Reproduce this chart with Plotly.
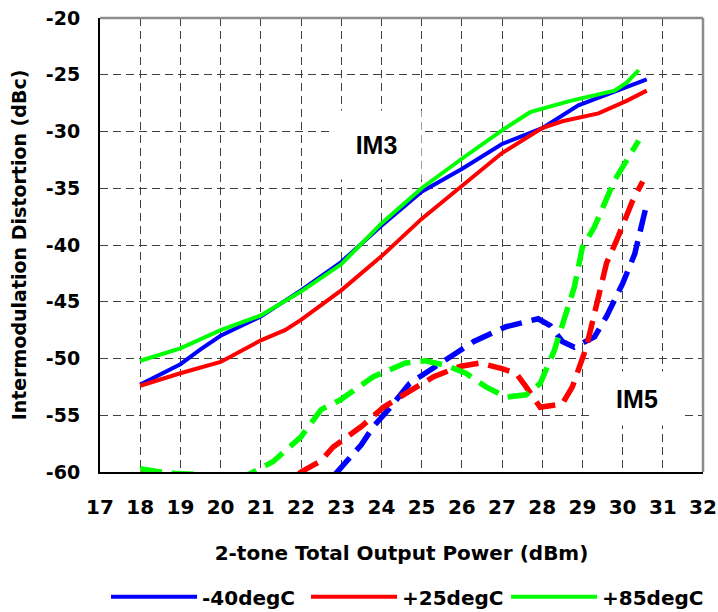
import plotly.graph_objects as go

# ---------------- data ----------------
series_names = ["-40degC", "+25degC", "+85degC"]
series_colors = ["#0000FF", "#FF0000", "#00FF00"]

# IM3 (solid)
im3_m40_x = [18, 19, 19.5, 20, 21, 22, 23, 24, 25, 26, 27, 28, 28.9, 29.8, 30.6]
im3_m40_y = [-52.3, -50.5, -49.2, -48.0, -46.3, -44.0, -41.5, -38.3, -35.3, -33.3, -31.1, -29.7, -27.7, -26.5, -25.4]

im3_p25_x = [18, 19, 20, 21, 21.6, 22, 23, 23.5, 24, 25, 26, 27, 28, 28.5, 29.4, 30.1, 30.6]
im3_p25_y = [-52.4, -51.3, -50.3, -48.4, -47.5, -46.6, -44.0, -42.5, -41.0, -37.7, -34.8, -31.9, -29.7, -29.1, -28.4, -27.3, -26.4]

im3_p85_x = [18, 19, 20, 21, 22, 23, 24, 25, 26, 27, 27.7, 28, 28.7, 29.8, 30.1, 30.4]
im3_p85_y = [-50.2, -49.1, -47.5, -46.2, -44.1, -41.7, -38.1, -35.0, -32.4, -29.9, -28.3, -28.0, -27.3, -26.4, -25.7, -24.6]

# IM5 (dashed)
im5_m40_x = [22.85, 23.0, 23.5, 23.8, 24.2, 24.7, 25.5, 26.3, 27.1, 27.9, 28.2, 28.5, 28.8, 29.3, 29.6, 30.0, 30.3, 30.6]
im5_m40_y = [-60.2, -59.6, -57.6, -56.0, -54.4, -52.2, -50.4, -48.5, -47.2, -46.5, -47.1, -48.5, -49.0, -48.1, -46.3, -43.4, -40.8, -36.4]

im5_p25_x = [18, 18.6, 21.9, 22.0, 22.5, 22.8, 23.5, 24.05, 24.55, 25.3, 25.95, 26.45, 27.0, 27.35, 27.6, 27.95,
             28.5, 28.75, 29.1, 29.35, 29.6, 29.85, 30.25, 30.5]
im5_p25_y = [-60.1, -60.6, -60.3, -60.0, -59.0, -57.8, -56.0, -54.3, -53.2, -51.6, -50.7, -50.4, -50.9, -51.3, -52.5, -54.3,
             -54.0, -52.5, -49.0, -45.5, -41.6, -39.6, -36.1, -34.4]

im5_p85_x = [18, 18.66, 20.6, 20.8, 21.3, 22.0, 22.5, 23.0, 23.8, 24.6, 25.1, 25.6, 26.1, 26.6, 27.1, 27.6, 27.95,
             28.3, 28.5, 28.8, 29.0, 29.3, 29.8, 30.4]
im5_p85_y = [-59.7, -60.1, -60.4, -60.0, -59.1, -56.9, -54.5, -53.6, -51.6, -50.4, -50.2, -50.6, -51.3, -52.5, -53.4, -53.2, -52.2,
             -49.3, -46.9, -43.7, -40.2, -38.4, -34.3, -30.8]

x_ticks = list(range(17, 33))
y_ticks = list(range(-60, -19, 5))

im3_x = [im3_m40_x, im3_p25_x, im3_p85_x]
im3_y = [im3_m40_y, im3_p25_y, im3_p85_y]
im5_x = [im5_m40_x, im5_p25_x, im5_p85_x]
im5_y = [im5_m40_y, im5_p25_y, im5_p85_y]

# ---------------- figure ----------------
FONT = "DejaVu Sans"
fig = go.Figure()

for name, color, xs, ys in zip(series_names, series_colors, im3_x, im3_y):
    fig.add_trace(go.Scatter(x=xs, y=ys, mode="lines", name=name, legendgroup=name,
                             line=dict(color=color, width=4)))

for name, color, xs, ys in zip(series_names, series_colors, im5_x, im5_y):
    fig.add_trace(go.Scatter(x=xs, y=ys, mode="lines", name=name, legendgroup=name, showlegend=False,
                             line=dict(color=color, width=5.5, dash="22px,10px")))

grid = dict(showgrid=True, gridcolor="#404040", gridwidth=1.3, griddash="8px,5px", zeroline=False,
            showline=True, linecolor="#000000", linewidth=2, ticks="")

fig.update_xaxes(range=[17, 32], tickvals=x_ticks, ticktext=[str(v) for v in x_ticks],
                 tickfont=dict(family=FONT, size=20, color="#000000", weight="bold"),
                 ticklabelstandoff=16,
                 title=dict(text="2-tone Total Output Power (dBm)", standoff=28,
                            font=dict(family=FONT, size=20, color="#000000", weight="bold")),
                 **grid)
fig.update_yaxes(range=[-60, -20], tickvals=y_ticks, ticktext=[str(v) for v in y_ticks],
                 tickfont=dict(family=FONT, size=19, color="#000000", weight="bold"),
                 ticklabelstandoff=14,
                 title=dict(text="Intermodulation Distortion (dBc)", standoff=14,
                            font=dict(family=FONT, size=19, color="#000000", weight="bold")),
                 **grid)

# gray frame on top and right
fig.add_shape(type="line", xref="paper", yref="paper", x0=0, x1=1, y0=1, y1=1,
              line=dict(color="#8c8c8c", width=2.5))
fig.add_shape(type="line", xref="paper", yref="paper", x0=1, x1=1, y0=0, y1=1,
              line=dict(color="#8c8c8c", width=2.5))

# curve labels on white boxes
fig.add_annotation(x=23.89, y=-31.2, text="<b>IM3</b>", showarrow=False,
                   font=dict(family="Liberation Sans", size=25, color="#000000"),
                   bgcolor="#ffffff", width=89, height=68, borderpad=0)
fig.add_annotation(x=30.35, y=-53.5, text="<b>IM5</b>", showarrow=False,
                   font=dict(family="Liberation Sans", size=25, color="#000000"),
                   bgcolor="#ffffff", width=90, height=53, borderpad=0)

fig.update_layout(
    width=718, height=612,
    margin=dict(l=100, r=15, t=18, b=140, autoexpand=False),
    paper_bgcolor="#ffffff", plot_bgcolor="#ffffff",
    showlegend=True,
    legend=dict(orientation="h", x=0.01, xanchor="left", y=-0.275, yanchor="middle",
                font=dict(family=FONT, size=20, color="#000000", weight="bold"),
                itemwidth=86, entrywidth=99, entrywidthmode="pixels",
                bgcolor="rgba(0,0,0,0)", traceorder="normal"),
)

fig.write_html("out.html", config={"displayModeBar": False},
               post_script="document.body.style.margin='0px';document.body.style.overflow='hidden';")
